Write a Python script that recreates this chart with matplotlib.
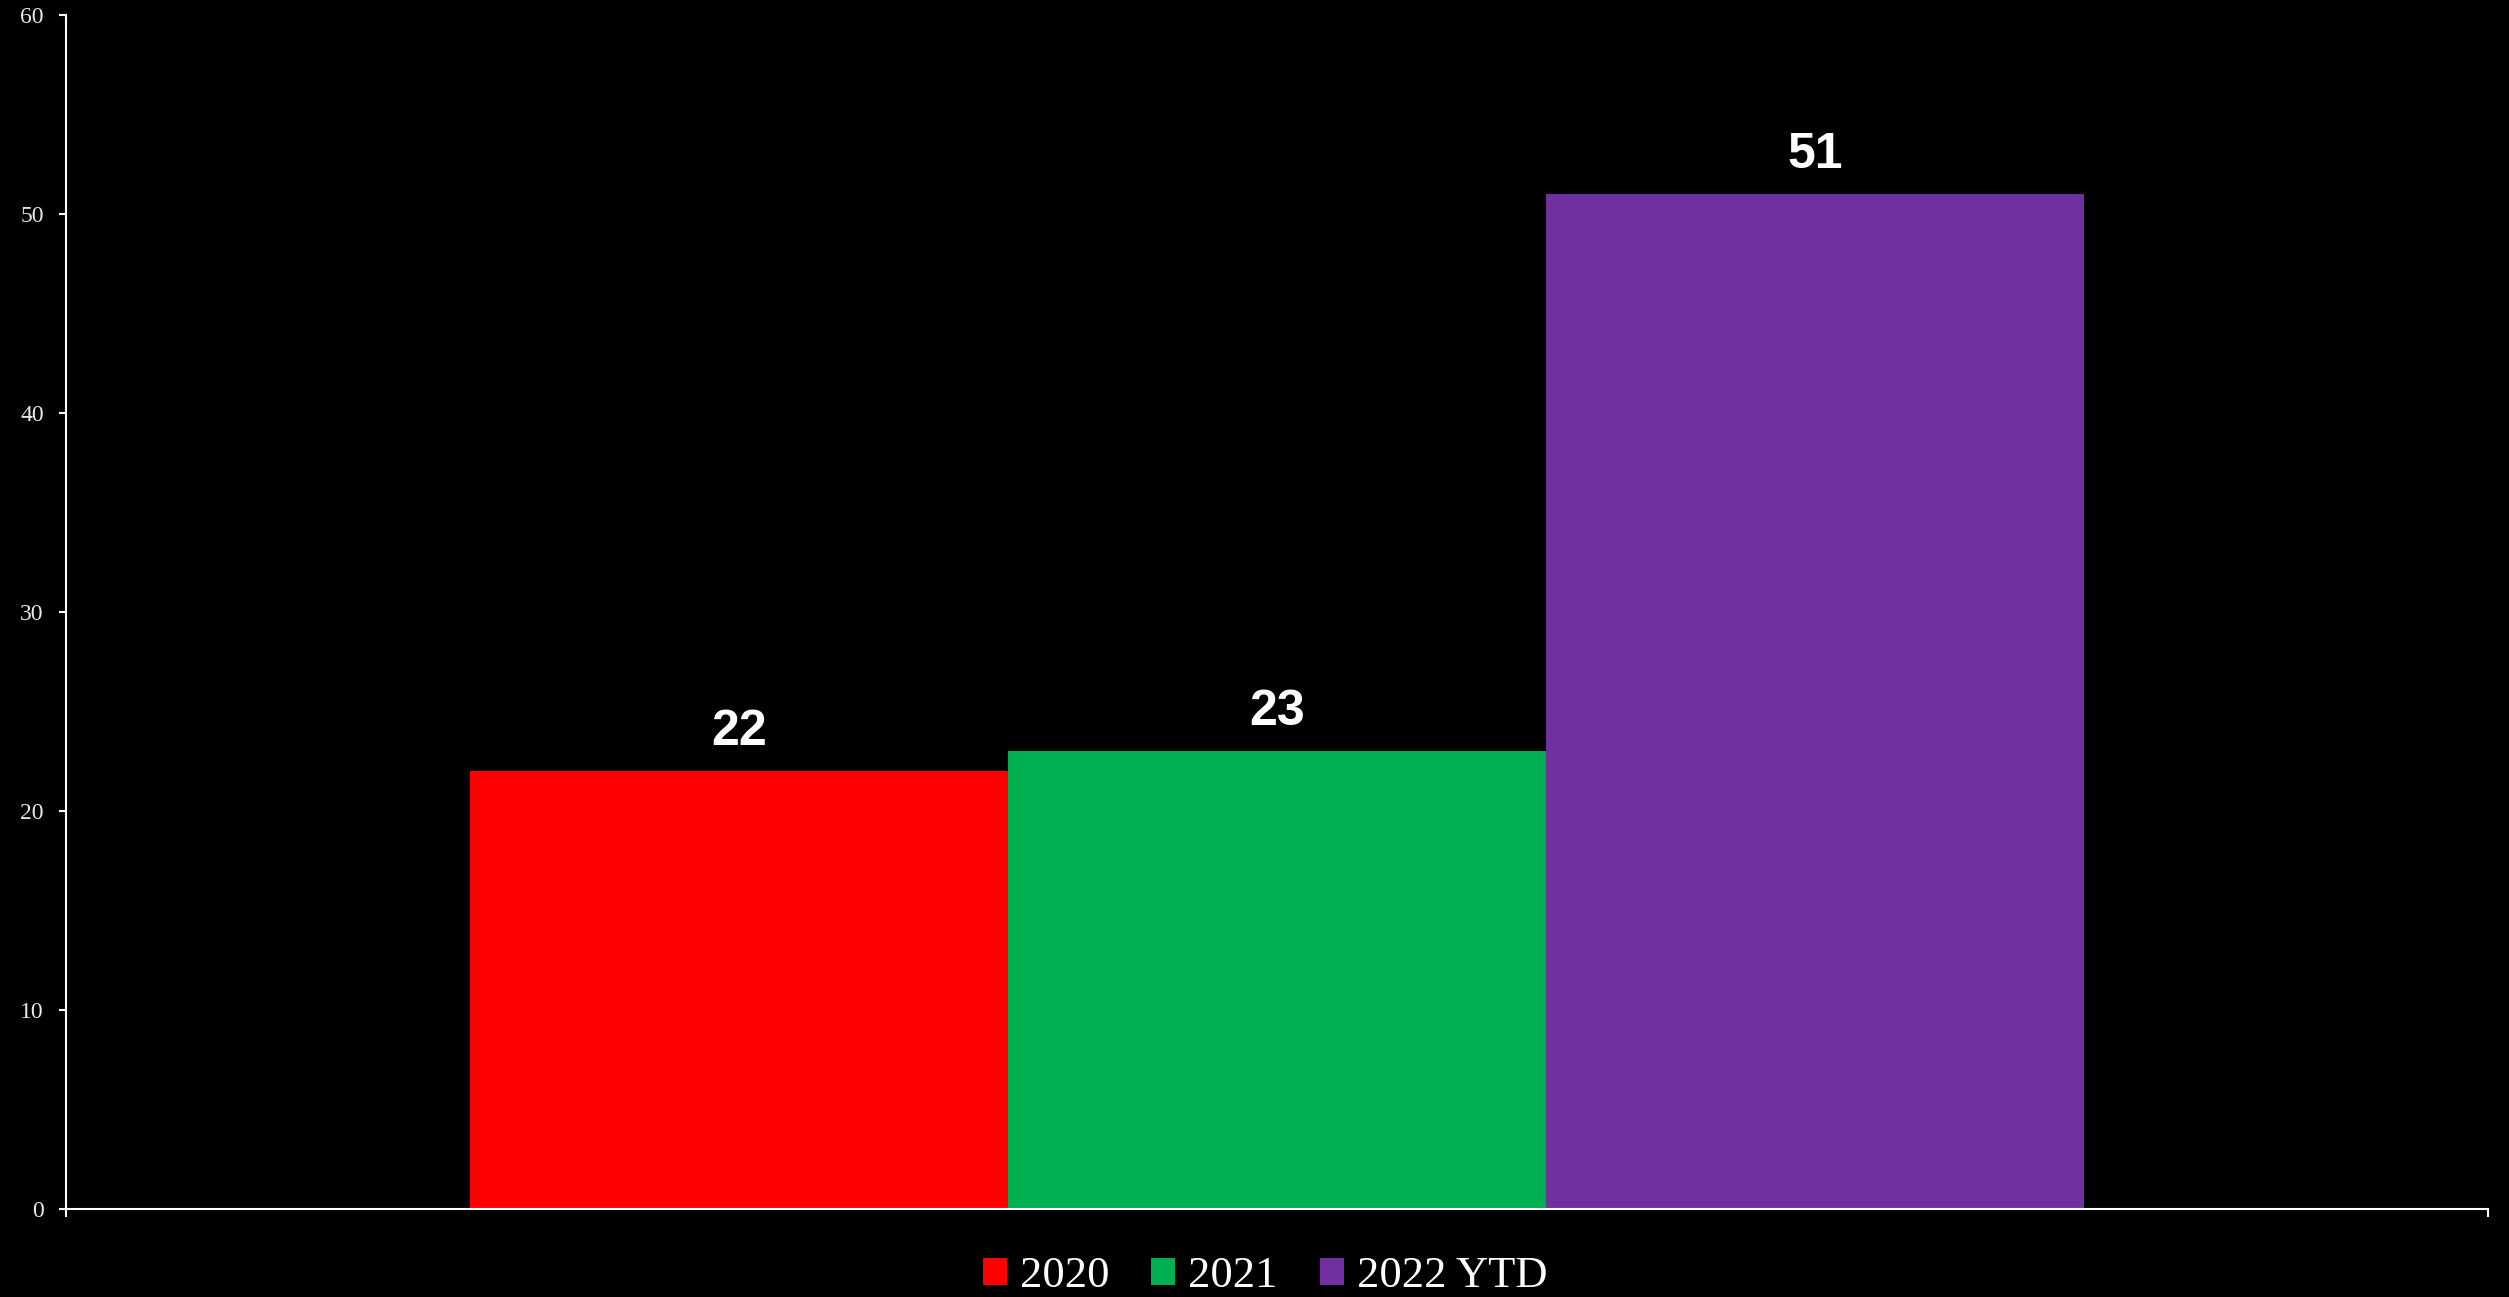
import matplotlib.pyplot as plt

# yearly totals shown as three side-by-side bars in a single category
SERIES = ["2020", "2021", "2022 YTD"]
VALUES = [22, 23, 51]
COLORS = ["#ff0000", "#00b050", "#7030a0"]
Y_TICKS = [0, 10, 20, 30, 40, 50, 60]

W, H, DPI = 2509, 1297, 100
fig = plt.figure(figsize=(W / DPI, H / DPI), dpi=DPI, facecolor="black")
ax = fig.add_axes([66 / W, (H - 1209) / H, 2422 / W, 1194 / H], facecolor="black")

bar_w = 2 / 9
for i, (name, val, col) in enumerate(zip(SERIES, VALUES, COLORS)):
    x = (i - 1) * bar_w
    ax.bar(x, val, width=bar_w, color=col, label=name, linewidth=0)
    ax.annotate(str(val), (x, val), xytext=(0, 19), textcoords="offset points",
                ha="center", va="baseline", color="white", fontsize=36,
                fontweight="bold", family=["Liberation Sans", "DejaVu Sans"])

ax.set_xlim(-0.5, 0.5)
ax.set_ylim(0, 60)
ax.set_yticks(Y_TICKS)
ax.set_xticks([-0.5, 0.5])
ax.set_xticklabels(["", ""])

for side in ["top", "right"]:
    ax.spines[side].set_visible(False)
for side in ["left", "bottom"]:
    ax.spines[side].set_color("white")
    ax.spines[side].set_linewidth(1.5)

ax.tick_params(axis="y", colors="white", length=5, width=1.5, pad=11,
               labelsize=17, labelcolor="#e8e8e8")
ax.tick_params(axis="x", colors="white", length=6, width=1.5)
for lbl in ax.get_yticklabels():
    lbl.set_family(["Liberation Serif", "DejaVu Serif"])

leg = fig.legend(loc="center", bbox_to_anchor=(1265 / W, 21 / H), ncol=3,
                 frameon=False, borderpad=0, handlelength=0.54, handleheight=0.54,
                 handletextpad=0.29, columnspacing=0.95,
                 prop={"family": ["Liberation Serif", "DejaVu Serif"], "size": 32})
for t in leg.get_texts():
    t.set_color("white")

fig.savefig("out.png", dpi=DPI, facecolor="black")
